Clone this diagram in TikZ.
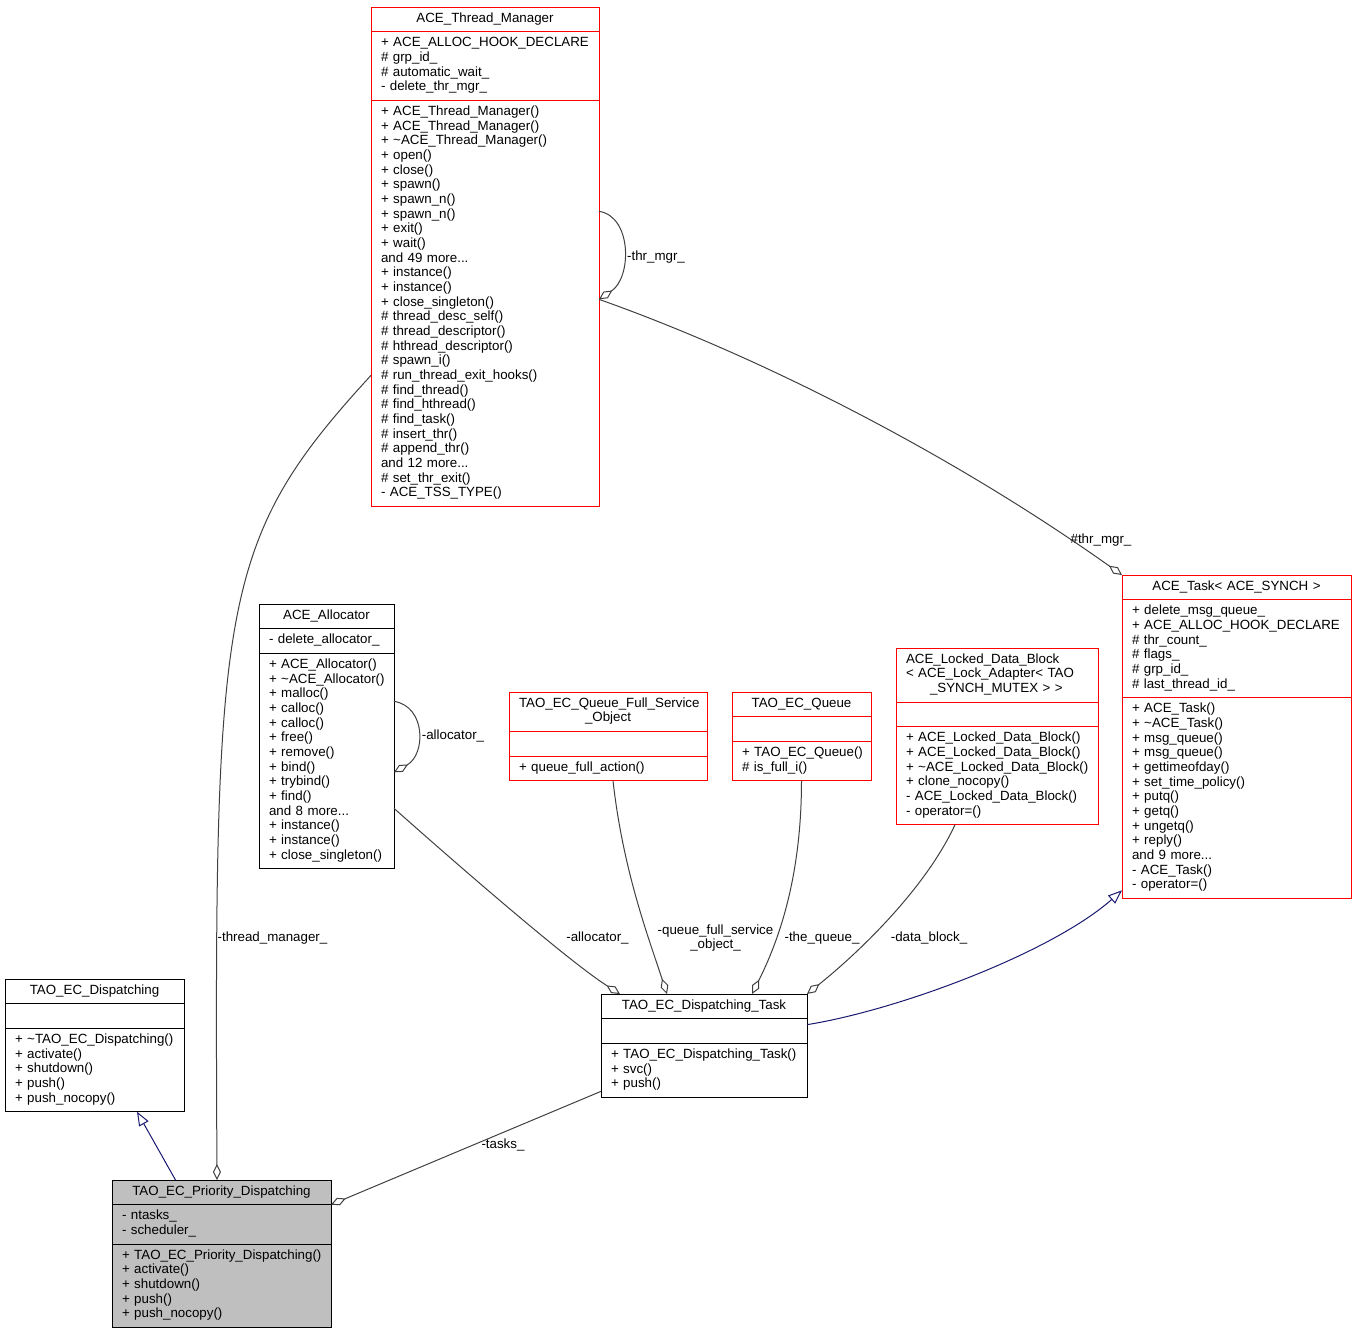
\documentclass[tikz,border=0pt]{standalone}
\usepackage{fontspec}
\setmainfont{Liberation Sans}
\usetikzlibrary{positioning,calc,arrows.meta}
\newcommand{\umlfont}{\fontsize{10}{11}\selectfont}
\definecolor{edgegray}{HTML}{404040}
\definecolor{inhblue}{HTML}{191970}
\definecolor{selgray}{HTML}{BFBFBF}
\tikzset{every picture/.style={line width=0.75pt}}
\tikzset{
  uml/.style={draw, anchor=north, inner xsep=7.5pt, inner ysep=0pt, outer sep=0pt, font=\umlfont, align=left,
    execute at begin node=\strut, execute at end node=\strut},
  rows/.style={minimum height={#1*11pt+7.5pt}},
  agg/.style={draw=edgegray, -{Diamond[open,length=12pt,width=6pt]}},
  inh/.style={draw=inhblue, -{Triangle[open,length=10.5pt,width=8pt]}},
  lbl/.style={font=\umlfont, inner sep=0pt, align=center},
}

\begin{document}
\begin{tikzpicture}[x=0.75pt,y=0.75pt,yscale=-1,xscale=1]
\useasboundingbox (0,0) rectangle (1357,1336);

% Class ACE_Thread_Manager
\node[uml, draw=red, text width=156pt, rows=1, align=center] (tm) at (485,7) {ACE\_Thread\_Manager};
\node[uml, draw=red, text width=156pt, rows=4, below=0pt of tm] (tm-a) {+~ACE\_ALLOC\_HOOK\_DECLARE\\\#~grp\_id\_\\\#~automatic\_wait\_\\-~delete\_thr\_mgr\_};
\node[uml, draw=red, text width=156pt, rows=27, below=0pt of tm-a] (tm-m) {+~ACE\_Thread\_Manager()\\+~ACE\_Thread\_Manager()\\+~\textasciitilde ACE\_Thread\_Manager()\\+~open()\\+~close()\\+~spawn()\\+~spawn\_n()\\+~spawn\_n()\\+~exit()\\+~wait()\\and~49~more...\\+~instance()\\+~instance()\\+~close\_singleton()\\\#~thread\_desc\_self()\\\#~thread\_descriptor()\\\#~hthread\_descriptor()\\\#~spawn\_i()\\\#~run\_thread\_exit\_hooks()\\\#~find\_thread()\\\#~find\_hthread()\\\#~find\_task()\\\#~insert\_thr()\\\#~append\_thr()\\and~12~more...\\\#~set\_thr\_exit()\\-~ACE\_TSS\_TYPE()};

% Class ACE_Allocator
\node[uml, text width=86.25pt, rows=1, align=center] (al) at (326.5,604) {ACE\_Allocator};
\node[uml, text width=86.25pt, rows=1, below=0pt of al] (al-a) {-~delete\_allocator\_};
\node[uml, text width=86.25pt, rows=14, below=0pt of al-a] (al-m) {+~ACE\_Allocator()\\+~\textasciitilde ACE\_Allocator()\\+~malloc()\\+~calloc()\\+~calloc()\\+~free()\\+~remove()\\+~bind()\\+~trybind()\\+~find()\\and~8~more...\\+~instance()\\+~instance()\\+~close\_singleton()};

% Class TAO_EC_Queue_Full_Service_Object
\node[uml, draw=red, text width=133.5pt, rows=2, align=center] (qf) at (608,692) {TAO\_EC\_Queue\_Full\_Service\\\_Object};
\node[uml, draw=red, text width=133.5pt, rows=1, below=0pt of qf] (qf-a) {};
\node[uml, draw=red, text width=133.5pt, rows=1, below=0pt of qf-a] (qf-m) {+~queue\_full\_action()};

% Class TAO_EC_Queue
\node[uml, draw=red, text width=89.25pt, rows=1, align=center] (q) at (801.5,692) {TAO\_EC\_Queue};
\node[uml, draw=red, text width=89.25pt, rows=1, below=0pt of q] (q-a) {};
\node[uml, draw=red, text width=89.25pt, rows=2, below=0pt of q-a] (q-m) {+~TAO\_EC\_Queue()\\\#~is\_full\_i()};

% Class ACE_Locked_Data_Block
\node[uml, draw=red, text width=136.5pt, rows=3] (ldb) at (997,648) {ACE\_Locked\_Data\_Block\\<~ACE\_Lock\_Adapter<~TAO\\\hspace*{18pt}\_SYNCH\_MUTEX~>~>};
\node[uml, draw=red, text width=136.5pt, rows=1, below=0pt of ldb] (ldb-a) {};
\node[uml, draw=red, text width=136.5pt, rows=6, below=0pt of ldb-a] (ldb-m) {+~ACE\_Locked\_Data\_Block()\\+~ACE\_Locked\_Data\_Block()\\+~\textasciitilde ACE\_Locked\_Data\_Block()\\+~clone\_nocopy()\\-~ACE\_Locked\_Data\_Block()\\-~operator=()};

% Class ACE_Task
\node[uml, draw=red, text width=156.75pt, rows=1, align=center] (task) at (1236.5,575) {ACE\_Task<~ACE\_SYNCH~>};
\node[uml, draw=red, text width=156.75pt, rows=6, below=0pt of task] (task-a) {+~delete\_msg\_queue\_\\+~ACE\_ALLOC\_HOOK\_DECLARE\\\#~thr\_count\_\\\#~flags\_\\\#~grp\_id\_\\\#~last\_thread\_id\_};
\node[uml, draw=red, text width=156.75pt, rows=13, below=0pt of task-a] (task-m) {+~ACE\_Task()\\+~\textasciitilde ACE\_Task()\\+~msg\_queue()\\+~msg\_queue()\\+~gettimeofday()\\+~set\_time\_policy()\\+~putq()\\+~getq()\\+~ungetq()\\+~reply()\\and~9~more...\\-~ACE\_Task()\\-~operator=()};

% Class TAO_EC_Dispatching_Task
\node[uml, text width=139.5pt, rows=1, align=center] (dt) at (704,994) {TAO\_EC\_Dispatching\_Task};
\node[uml, text width=139.5pt, rows=1, below=0pt of dt] (dt-a) {};
\node[uml, text width=139.5pt, rows=3, below=0pt of dt-a] (dt-m) {+~TAO\_EC\_Dispatching\_Task()\\+~svc()\\+~push()};

% Class TAO_EC_Dispatching
\node[uml, text width=119.25pt, rows=1, align=center] (d) at (94.5,979) {TAO\_EC\_Dispatching};
\node[uml, text width=119.25pt, rows=1, below=0pt of d] (d-a) {};
\node[uml, text width=119.25pt, rows=5, below=0pt of d-a] (d-m) {+~\textasciitilde TAO\_EC\_Dispatching()\\+~activate()\\+~shutdown()\\+~push()\\+~push\_nocopy()};

% Class TAO_EC_Priority_Dispatching
\node[uml, fill=selgray, text width=149.25pt, rows=1, align=center] (pd) at (221.5,1180) {TAO\_EC\_Priority\_Dispatching};
\node[uml, fill=selgray, text width=149.25pt, rows=2, below=0pt of pd] (pd-a) {-~ntasks\_\\-~scheduler\_};
\node[uml, fill=selgray, text width=149.25pt, rows=5, below=0pt of pd-a] (pd-m) {+~TAO\_EC\_Priority\_Dispatching()\\+~activate()\\+~shutdown()\\+~push()\\+~push\_nocopy()};

% Connectors
\draw[agg] ($(tm-m.north east)+(0,111)$) .. controls +(33,5) and +(33,-22) .. ($(tm-m.north east)+(0,199)$);
\draw[agg] ($(tm-m.north east)+(0,199)$) .. controls (770,360) and (960,460) .. (task.north west);
\draw[agg] ($(tm-m.north west)+(0,275)$) .. controls (220,540) and (214,600) .. ($(pd.north)+(-4.5,0)$);
\draw[agg] ($(al-m.north east)+(0,48)$) .. controls +(32,5) and +(32,-18) .. ($(al-m.north east)+(0,119)$);
\draw[agg] ($(al-m.north east)+(0,155)$) .. controls +(45,40) and +(-55,-35) .. ($(dt.north west)+(19,0)$);
\draw[agg] ($(qf-m.south)+(5,0)$) .. controls +(10,90) and +(-18,-55) .. ($(dt.north)+(-37,0)$);
\draw[agg] (q-m.south) .. controls +(0,100) and +(25,-50) .. ($(dt.north)+(48,0)$);
\draw[agg] ($(ldb-m.south)+(-42,0)$) .. controls +(-30,65) and +(50,-40) .. (dt.north east);
\draw[agg] ($(dt-m.south west)+(0,-6)$) -- (pd-a.north east);
\draw[inh] ($(dt-a.north east)+(0,6)$) .. controls +(93,-15) and +(-70,62) .. ($(task-m.south west)+(0,-8)$);
\draw[inh] ($(pd.north)+(-46,0)$) -- ($(d-m.south)+(42.5,0)$);

% Text Node
\node[lbl] (l-thrmgr) at (656,257) {-thr\_mgr\_};
\node[lbl] (l-thrmgr2) at (1101,540) {\#thr\_mgr\_};
\node[lbl] (l-thrman) at (272.5,938) {-thread\_manager\_};
\node[lbl] (l-alloc) at (453,736) {-allocator\_};
\node[lbl] (l-alloc2) at (597.5,938) {-allocator\_};
\node[lbl] (l-qfso) at (715.5,938) {-queue\_full\_service\\\_object\_};
\node[lbl] (l-queue) at (822,938) {-the\_queue\_};
\node[lbl] (l-data) at (929,938) {-data\_block\_};
\node[lbl] (l-tasks) at (503,1145) {-tasks\_};

\end{tikzpicture}
\end{document}
